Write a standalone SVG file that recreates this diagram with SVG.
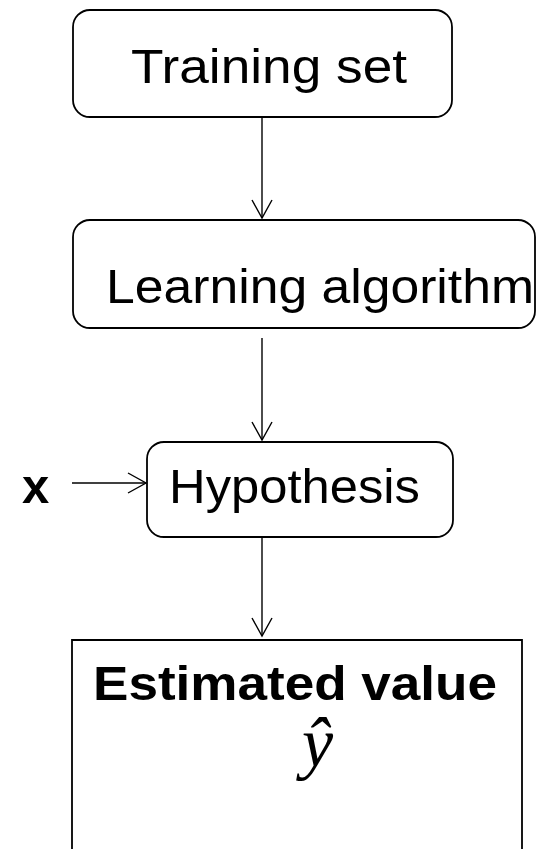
<svg xmlns="http://www.w3.org/2000/svg" width="539" height="849" viewBox="0 0 539 849">
  <style>
    .box { fill: #ffffff; stroke: #000000; stroke-width: 1.8; }
    .lbl { font-family: "Liberation Sans", Arial, sans-serif; font-size: 49px; fill: #000000; }
    .bold { font-weight: bold; }
    .math { font-family: "Liberation Serif", "Times New Roman", serif; font-style: italic; font-size: 70px; fill: #000000; }
    .edge { fill: none; stroke: #000000; stroke-width: 1.4; }
  </style>
  <defs>
    <marker id="open-arrow" markerUnits="userSpaceOnUse" markerWidth="22" markerHeight="24" viewBox="-20 -12 22 24" refX="0" refY="0" orient="auto">
      <path d="M-18,-10 L0,0 L-18,10" fill="none" stroke="#000000" stroke-width="1.4"/>
    </marker>
  </defs>
  <rect width="539" height="849" fill="#ffffff"/>

  <g id="training-set">
    <rect class="box" x="73" y="10" width="379" height="107" rx="17" ry="17"/>
    <text class="lbl" x="131" y="83" textLength="276" lengthAdjust="spacingAndGlyphs">Training set</text>
  </g>

  <g id="learning-algorithm">
    <rect class="box" x="73" y="220" width="462" height="108" rx="17" ry="17"/>
    <text class="lbl" x="106" y="303" textLength="428" lengthAdjust="spacingAndGlyphs">Learning algorithm</text>
  </g>

  <g id="hypothesis">
    <rect class="box" x="147" y="442" width="306" height="95" rx="17" ry="17"/>
    <text class="lbl" x="169" y="503" textLength="251" lengthAdjust="spacingAndGlyphs">Hypothesis</text>
  </g>

  <g id="input-x">
    <text class="lbl bold" x="22" y="503" font-size="60">x</text>
  </g>

  <g id="estimated-value">
    <path class="box" d="M72,860 L72,640 L522,640 L522,860"/>
    <text class="lbl bold" x="93" y="700" font-size="52" textLength="404" lengthAdjust="spacingAndGlyphs">Estimated value</text>
    <text class="math" x="302" y="766">ŷ</text>
  </g>

  <g id="connectors">
    <line class="edge" x1="262" y1="117" x2="262" y2="218" marker-end="url(#open-arrow)"/>
    <line class="edge" x1="262" y1="338" x2="262" y2="440" marker-end="url(#open-arrow)"/>
    <line class="edge" x1="262" y1="537" x2="262" y2="636" marker-end="url(#open-arrow)"/>
    <line class="edge" x1="72" y1="483" x2="146" y2="483" marker-end="url(#open-arrow)"/>
  </g>
</svg>
